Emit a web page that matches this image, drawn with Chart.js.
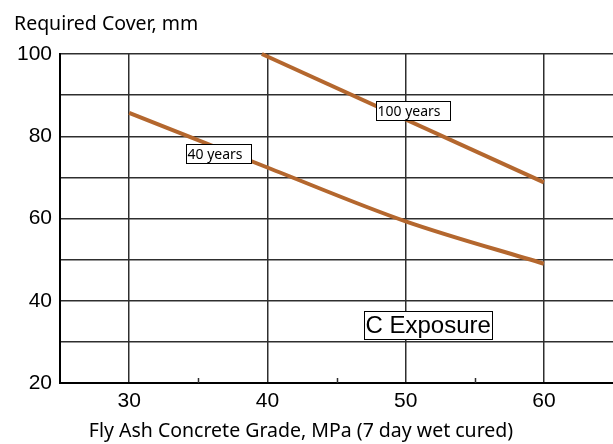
<!DOCTYPE html>
<html>
<head>
<meta charset="utf-8">
<script src="https://cdn.jsdelivr.net/npm/chart.js@4.4.0/dist/chart.umd.min.js"></script>
<style>
  body { margin: 0; background: #fff; }
  #wrap { width: 613px; height: 444px; }
</style>
</head>
<body>
<div id="wrap"><canvas id="chart" width="613" height="444"></canvas></div>
<script>
// Datos
const grade40 = [30, 40, 50, 60];
const cover40 = [85.7, 72.4, 59.3, 49.0];
const grade100 = [39.6, 60];
const cover100 = [100, 68.8];
const yTickLabels = [20, 40, 60, 80, 100];
const xTickLabels = [30, 40, 50, 60];
const minorTicks = [35, 45, 55];

const lineColor = '#b4672e';
const gridColor = '#2e2e2e';

// Notas sobre el gráfico (posición en unidades de datos)
const notes = [
    { text: '40 years', x: 34.08, y: 78.0, w: 65, h: 19, font: '14px "Noto Sans"' },
    { text: '100 years', x: 47.87, y: 88.5, w: 74, h: 19, font: '14px "Noto Sans"' },
    { text: 'C Exposure', x: 47.02, y: 37.6, w: 128, h: 28, font: '24px "Liberation Sans"' }
];

const extras = {
    id: 'extras',
    afterDraw(chart) {
        const c = chart.ctx;
        const xs = chart.scales.x;
        const ys = chart.scales.y;
        const bottom = chart.chartArea.bottom;

        // marcas menores en el eje x
        c.save();
        c.strokeStyle = gridColor;
        c.lineWidth = 1.5;
        minorTicks.forEach(v => {
            const px = Math.round(xs.getPixelForValue(v)) + 0.5;
            c.beginPath();
            c.moveTo(px, bottom);
            c.lineTo(px, bottom - 5);
            c.stroke();
        });

        // cajas de texto
        notes.forEach(n => {
            const px = Math.round(xs.getPixelForValue(n.x)) + 0.5;
            const py = Math.round(ys.getPixelForValue(n.y)) + 0.5;
            c.fillStyle = '#fff';
            c.fillRect(px, py, n.w, n.h);
            c.strokeStyle = '#000';
            c.lineWidth = 1;
            c.strokeRect(px, py, n.w, n.h);
            c.fillStyle = '#000';
            c.font = n.font;
            c.textBaseline = 'middle';
            c.textAlign = 'left';
            c.fillText(n.text, px + 1, py + n.h / 2 + 1);
        });

        // títulos de ejes
        c.fillStyle = '#000';
        c.font = '19.5px "Noto Sans"';
        c.textBaseline = 'alphabetic';
        c.textAlign = 'left';
        c.fillText('Required Cover, mm', 14, 29.5);
        c.textAlign = 'center';
        c.fillText('Fly Ash Concrete Grade, MPa (7 day wet cured)', 301, 436.5);
        c.restore();
    }
};

const ctx = document.getElementById('chart').getContext('2d');
new Chart(ctx, {
    type: 'line',
    data: {
        datasets: [
            {
                label: '40 years',
                data: grade40.map((g, i) => ({ x: g, y: cover40[i] })),
                borderColor: lineColor,
                borderWidth: 4,
                pointRadius: 0,
                cubicInterpolationMode: 'monotone'
            },
            {
                label: '100 years',
                data: grade100.map((g, i) => ({ x: g, y: cover100[i] })),
                borderColor: lineColor,
                borderWidth: 4,
                pointRadius: 0
            }
        ]
    },
    options: {
        responsive: false,
        animation: false,
        clip: false,
        layout: { padding: { top: 54, left: 0, right: 0, bottom: 0 } },
        plugins: {
            legend: { display: false },
            tooltip: { enabled: false }
        },
        scales: {
            x: {
                type: 'linear',
                min: 25,
                max: 65,
                afterFit: s => {
                    s.height = 61;
                    s.paddingLeft = 0;
                    s.paddingRight = 0;
                },
                border: { display: true, color: '#000', width: 2 },
                grid: {
                    drawTicks: false,
                    lineWidth: 1.5,
                    color: c => xTickLabels.includes(c.tick.value) ? gridColor : 'rgba(0,0,0,0)'
                },
                ticks: {
                    stepSize: 5,
                    padding: 6,
                    maxRotation: 0,
                    autoSkip: false,
                    color: '#000',
                    font: { family: '"Liberation Sans"', size: 21 },
                    callback: v => xTickLabels.includes(v) ? String(v) : ''
                }
            },
            y: {
                min: 20,
                max: 100,
                afterFit: s => {
                    s.width = 60;
                    s.paddingTop = 0;
                    s.paddingBottom = 0;
                },
                border: { display: true, color: '#000', width: 2 },
                grid: {
                    drawTicks: false,
                    lineWidth: 1.5,
                    color: gridColor
                },
                ticks: {
                    stepSize: 10,
                    padding: 8,
                    autoSkip: false,
                    color: '#000',
                    font: { family: '"Liberation Sans"', size: 21 },
                    callback: v => yTickLabels.includes(v) ? String(v) : ''
                }
            }
        }
    },
    plugins: [extras]
});
</script>
</body>
</html>
